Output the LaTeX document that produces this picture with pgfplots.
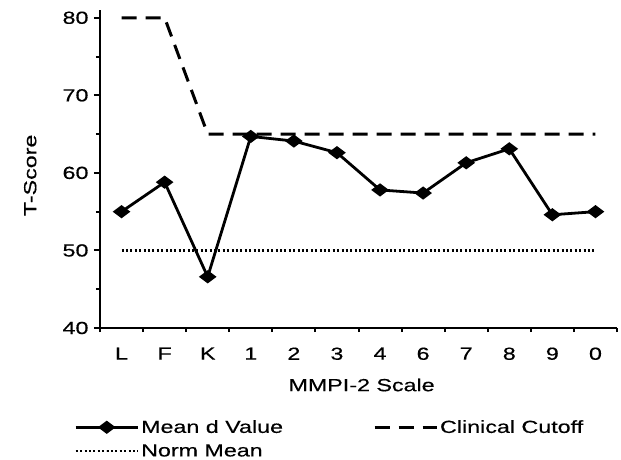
\documentclass[border=0pt]{standalone}
\usepackage{fontspec}
\setmainfont{Liberation Sans}[FakeStretch=1.33, FakeBold=0.4]
\usepackage{pgfplots}
\pgfplotsset{compat=1.18}
\newcommand{\ff}{\fontsize{17.5pt}{21pt}\selectfont}
\begin{document}
\begin{tikzpicture}
\begin{axis}[
  at={(0pt,0pt)}, anchor=south west,
  scale only axis, width=517pt, height=318pt,
  xmin=-0.5, xmax=11.5, ymin=40, ymax=81,
  axis x line=bottom, axis y line=left,
  axis line style={-, line width=2.6pt},
  tick align=outside,
  xtick={0,...,11},
  xticklabels={L,F,K,1,2,3,4,6,7,8,9,0},
  major x tick style={draw=none},
  minor xtick={-0.5,0.5,...,11.5},
  ytick={40,50,60,70,80},
  minor ytick={45,55,65,75},
  major tick length=6pt, minor tick length=4pt,
  every tick/.style={line width=2pt, black},
  /pgf/number format/assume math mode=true,
  tick label style={font=\ff},
  xticklabel style={yshift=-10pt},
  yticklabel style={xshift=-2pt},
  xlabel={MMPI-2 Scale}, ylabel={T-Score},
  label style={font=\ff},
  xlabel style={at={(axis description cs:0.506,-0.179)}, anchor=center},
  ylabel style={at={(axis description cs:-0.135,0.48)}, anchor=center},
  legend columns=2,
  legend cell align=left,
  legend style={draw=none, fill=none, font=\ff, at={(axis description cs:-0.05,-0.283)}, anchor=north west,
    /tikz/column 2/.style={column sep=88pt}, row sep=6pt, inner sep=0pt},
  legend image code/.code={\draw[mark repeat=2, mark phase=2, #1] plot coordinates {(0pt,0pt) (31pt,0pt) (62pt,0pt)};},
]
\addplot[black, line width=2.8pt, mark=diamond*, mark size=6.5pt, mark options={rotate=90, solid}]
  coordinates {(0,55.0) (1,58.8) (2,46.6) (3,64.7) (4,64.1) (5,62.6) (6,57.8) (7,57.4) (8,61.3) (9,63.1) (10,54.6) (11,55.0)};
\addlegendentry{Mean d Value}
\addplot[black, line width=3pt, dash pattern=on 15pt off 9pt]
  coordinates {(0,80) (1,80) (2,65) (3,65) (4,65) (5,65) (6,65) (7,65) (8,65) (9,65) (10,65) (11,65)};
\addlegendentry{Clinical Cutoff}
\addplot[black, line width=2.4pt, dash pattern=on 2pt off 2.4pt]
  coordinates {(0,50) (11,50)};
\addlegendentry{Norm Mean}
\end{axis}
\pgfresetboundingbox
\useasboundingbox (-100pt,-132pt) rectangle (521pt,328pt);
\end{tikzpicture}
\end{document}
